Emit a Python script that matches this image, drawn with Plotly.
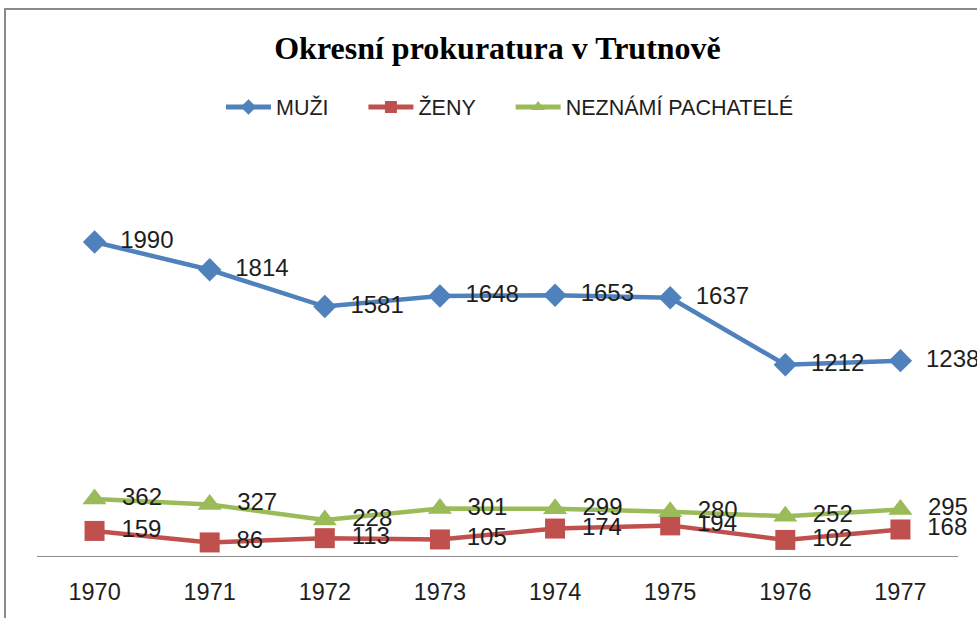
import plotly.graph_objects as go

years = ["1970", "1971", "1972", "1973", "1974", "1975", "1976", "1977"]
muzi = [1990, 1814, 1581, 1648, 1653, 1637, 1212, 1238]
zeny = [159, 86, 113, 105, 174, 194, 102, 168]
nezname = [362, 327, 228, 301, 299, 280, 252, 295]

NB = "\u00a0"
series = [
    ("MUŽI", NB * 5, muzi, "#4F81BD", "diamond", 18),
    ("ŽENY", NB * 5, zeny, "#C0504D", "square", 20),
    ("NEZNÁMÍ PACHATELÉ", "", nezname, "#9BBB59", "triangle-up", 21),
]

fig = go.Figure()
for name, pad, vals, col, sym, sz in series:
    fig.add_trace(go.Scatter(
        x=years, y=vals, name=name + pad, mode="lines+markers+text",
        line=dict(color=col, width=4.5),
        marker=dict(color=col, symbol=sym, size=sz),
        text=[str(v) for v in vals],
        texttemplate=NB * 2 + "%{text}",
        textposition="middle right",
        textfont=dict(family="Liberation Sans", size=24, color="#1e1e1e"),
        cliponaxis=False,
    ))

L, R, T, B = 37, 19, 130, 62
W, H = 977, 618
pw, ph = W - L - R, H - T - B

fig.update_layout(
    width=W, height=H,
    margin=dict(l=L, r=R, t=T, b=B, autoexpand=False),
    paper_bgcolor="white", plot_bgcolor="white",
    title=dict(
        text="Okresní prokuratura v Trutnově",
        font=dict(family="Liberation Serif", size=32, color="black", weight="bold"),
        x=497.5 / W, xanchor="center", xref="container",
        y=1 - 48 / H, yanchor="middle", yref="container",
    ),
    legend=dict(
        orientation="h",
        x=221 / W, xanchor="left", xref="container",
        y=1 - 107 / H, yanchor="middle", yref="container",
        font=dict(family="Liberation Sans", size=21.5, color="#1e1e1e"),
        itemsizing="constant", itemwidth=45,
    ),
    xaxis=dict(
        type="category", range=[-0.5, 7.5],
        showline=True, linecolor="#8c8c8c", linewidth=1,
        showgrid=False, zeroline=False, ticks="",
        tickfont=dict(family="Liberation Sans", size=23.5, color="#1e1e1e"),
        ticklabelstandoff=15,
    ),
    yaxis=dict(
        range=[0, 2700], visible=False, showgrid=False, zeroline=False,
    ),
    showlegend=True,
)

fig.add_shape(
    type="rect", xref="paper", yref="paper",
    x0=(5 - L) / pw, x1=1.2, y0=-0.5, y1=(H - B - 9) / ph,
    line=dict(color="#8a8a8a", width=2), fillcolor="rgba(0,0,0,0)",
    layer="below",
)

fig.write_html(
    "out.html",
    config={"displayModeBar": False},
    post_script="document.body.style.margin='0';document.body.style.overflow='hidden';",
)
